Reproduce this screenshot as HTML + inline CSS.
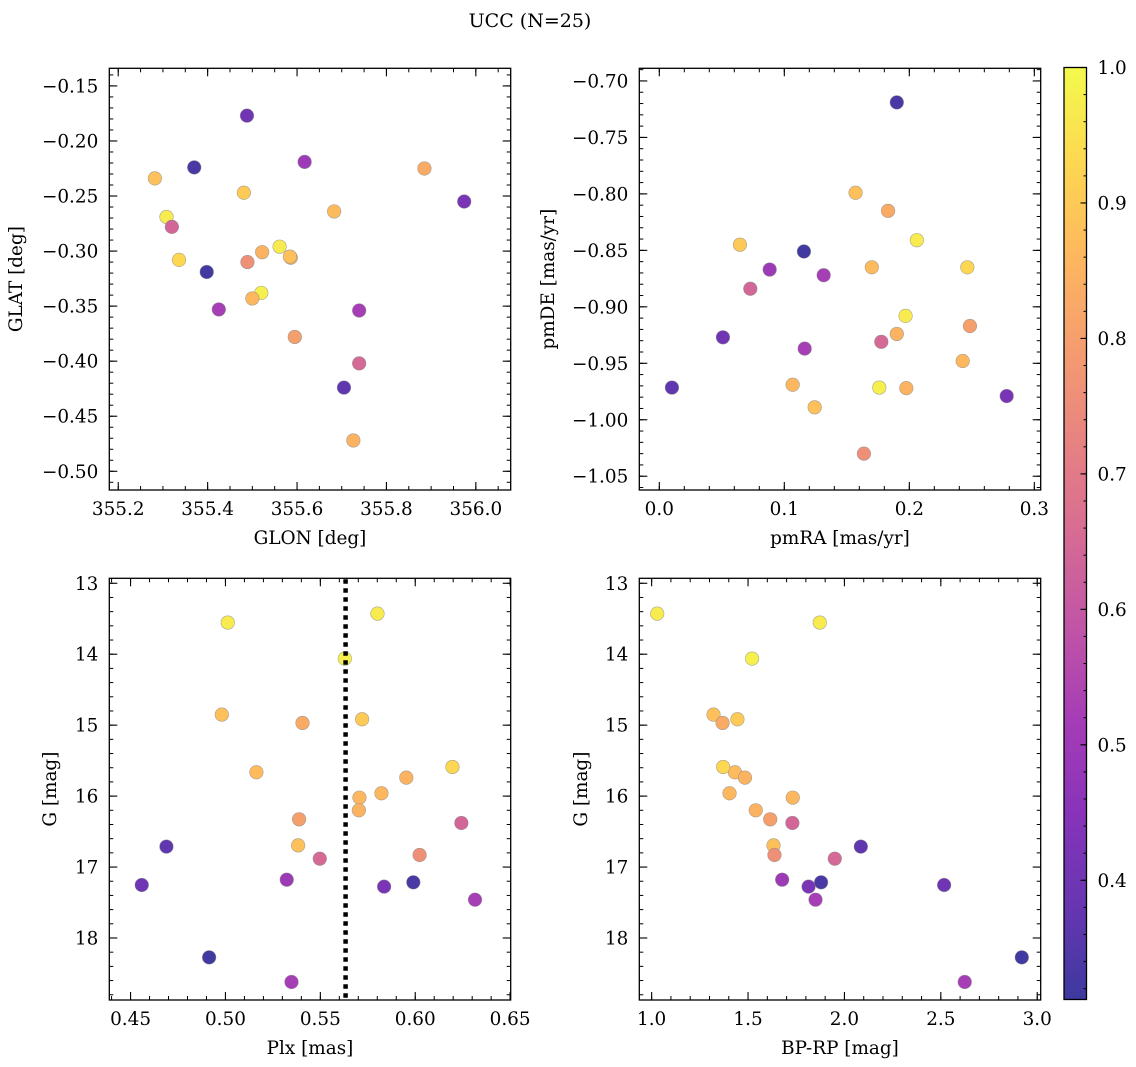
<!DOCTYPE html>
<html><head><meta charset="utf-8"><style>
html,body{margin:0;padding:0;background:#fff}
svg{display:block}
text{font-family:"DejaVu Serif","Liberation Serif",serif;fill:#000}
</style></head><body>
<svg id="fig" width="1136" height="1067" viewBox="0 0 1136 1067" xmlns="http://www.w3.org/2000/svg">
<defs>
<linearGradient id="plasma" x1="0" y1="1" x2="0" y2="0"></linearGradient>
</defs>
<text x="530" y="27" font-size="19" text-anchor="middle">UCC (N=25)</text>
</svg>
<script>
// per-star data (25 stars)
const plx   = [0.5012,0.5801,0.5629,0.4981,0.5406,0.5720,0.5163,0.6196,0.5953,0.5706,0.5822,0.5703,0.5388,0.6243,0.4689,0.5383,0.5497,0.6023,0.4559,0.5323,0.5836,0.5990,0.6315,0.4914,0.5348];
const gmag  = [13.554,13.428,14.062,14.851,14.969,14.917,15.664,15.589,15.740,16.022,15.960,16.200,16.327,16.379,16.712,16.694,16.882,16.830,17.253,17.178,17.276,17.215,17.460,18.273,18.620];
const bprp  = [1.872,1.029,1.521,1.321,1.368,1.445,1.432,1.371,1.484,1.732,1.404,1.540,1.615,1.730,2.085,1.632,1.950,1.637,2.517,1.677,1.814,1.879,1.850,2.920,2.624];
const glon  = [355.308,355.561,355.520,355.282,355.885,355.481,355.683,355.336,355.522,355.586,355.500,355.726,355.595,355.320,355.705,355.584,355.739,355.489,355.488,355.617,355.974,355.370,355.425,355.398,355.739];
const glat  = [-0.269,-0.296,-0.338,-0.234,-0.225,-0.247,-0.264,-0.308,-0.301,-0.306,-0.343,-0.472,-0.378,-0.278,-0.424,-0.305,-0.402,-0.310,-0.177,-0.219,-0.255,-0.224,-0.353,-0.319,-0.354];
const pmra  = [0.206,0.197,0.176,0.157,0.183,0.0645,0.170,0.2464,0.190,0.2427,0.1067,0.1976,0.2485,0.0728,0.0101,0.1243,0.1776,0.1637,0.0509,0.0883,0.2779,0.190,0.1315,0.1157,0.1163];
const pmde  = [-0.841,-0.908,-0.9715,-0.799,-0.815,-0.845,-0.865,-0.865,-0.924,-0.948,-0.969,-0.972,-0.917,-0.884,-0.9715,-0.989,-0.931,-1.030,-0.927,-0.867,-0.979,-0.719,-0.872,-0.851,-0.937];
const cval  = [0.97,0.97,0.98,0.88,0.83,0.90,0.87,0.93,0.85,0.86,0.86,0.85,0.80,0.64,0.37,0.88,0.65,0.76,0.40,0.50,0.42,0.33,0.52,0.32,0.52];
const plxLine = 0.5633;
const cbTicks = [0.4,0.5,0.6,0.7,0.8,0.9,1.0];

const NS="http://www.w3.org/2000/svg";
const svg=document.getElementById('fig');
const FS=18.4;
function mk(tag,attrs,parent){const e=document.createElementNS(NS,tag);for(const k in attrs)e.setAttribute(k,attrs[k]);(parent||svg).appendChild(e);return e;}

const VMIN=0.312, VMAX=1.0, ALPHA=0.8;
const stops=[[0,[13,8,135]],[0.1,[65,4,157]],[0.2,[106,0,168]],[0.3,[143,13,164]],[0.4,[177,42,144]],[0.5,[204,71,120]],[0.6,[225,100,98]],[0.7,[242,132,75]],[0.8,[252,166,54]],[0.9,[252,206,37]],[1.0,[240,249,33]]];
function plasma(v){
  let t=(v-VMIN)/(VMAX-VMIN); t=Math.max(0,Math.min(1,t));
  let c=stops[stops.length-1][1];
  for(let i=1;i<stops.length;i++){if(t<=stops[i][0]){const a=stops[i-1],b=stops[i];const f=(t-a[0])/(b[0]-a[0]);
    c=a[1].map((x,j)=>x+(b[1][j]-x)*f);break;}}
  c=c.map(x=>Math.round(x*ALPHA+255*(1-ALPHA)));
  return `rgb(${c[0]},${c[1]},${c[2]})`;
}
(function(){const g=document.getElementById('plasma');
  for(let i=0;i<=20;i++){const t=i/20;const v=VMIN+t*(VMAX-VMIN);mk('stop',{offset:t,'stop-color':plasma(v)},g);}})();

function fmt(v,d){const s=Math.abs(v).toFixed(d);return (v<-1e-9?'\u2212':'')+s;}
function steps(a,b,st){const out=[];const k0=Math.ceil(a/st-1e-6),k1=Math.floor(b/st+1e-6);for(let k=k0;k<=k1;k++)out.push(k*st);return out;}

function panel(o){
  const g=mk('g',{});
  
  
  const L=o.L,R=o.R,T=o.T,B=o.B;
  const sx=v=>L+(v-o.x0)/(o.x1-o.x0)*(R-L);
  const sy=o.yinv? (v=>T+(v-o.y0)/(o.y1-o.y0)*(B-T)) : (v=>B-(v-o.y0)/(o.y1-o.y0)*(B-T));
  const lo=Math.min(o.y0,o.y1),hi=Math.max(o.y0,o.y1);
  steps(o.x0,o.x1,o.xmin).forEach(v=>{const x=sx(v);
    mk('line',{x1:x,x2:x,y1:B,y2:B-4,stroke:'#000','stroke-width':1},g);mk('line',{x1:x,x2:x,y1:T,y2:T+4,stroke:'#000','stroke-width':1},g);});
  steps(lo,hi,o.ymin).forEach(v=>{const y=sy(v);
    mk('line',{x1:L,x2:L+4,y1:y,y2:y,stroke:'#000','stroke-width':1},g);mk('line',{x1:R,x2:R-4,y1:y,y2:y,stroke:'#000','stroke-width':1},g);});
  steps(o.x0,o.x1,o.xmaj).forEach(v=>{const x=sx(v);
    mk('line',{x1:x,x2:x,y1:B,y2:B-8,stroke:'#000','stroke-width':1.1},g);mk('line',{x1:x,x2:x,y1:T,y2:T+8,stroke:'#000','stroke-width':1.1},g);
    const t=mk('text',{x:x,y:B+25,'font-size':FS,'text-anchor':'middle'},g);t.textContent=fmt(v,o.xd);
    
    });
  steps(lo,hi,o.ymaj).forEach(v=>{const y=sy(v);
    mk('line',{x1:L,x2:L+8,y1:y,y2:y,stroke:'#000','stroke-width':1.1},g);mk('line',{x1:R,x2:R-8,y1:y,y2:y,stroke:'#000','stroke-width':1.1},g);
    const t=mk('text',{x:L-11,y:y+6.5,'font-size':FS,'text-anchor':'end'},g);t.textContent=fmt(v,o.yd);
    
    });
  const xl=mk('text',{x:(L+R)/2,y:B+54,'font-size':FS,'text-anchor':'middle'},g);xl.textContent=o.xlabel;
  
  
  const yl=mk('text',{x:o.ylx,y:(T+B)/2,'font-size':FS,'text-anchor':'middle',transform:`rotate(-90 ${o.ylx} ${(T+B)/2})`},g);yl.textContent=o.ylabel;
  
  
  for(let i=0;i<o.xs.length;i++){
    const c=mk('circle',{cx:sx(o.xs[i]),cy:sy(o.ys[i]),r:6.8,fill:plasma(cval[i]),stroke:'#888','stroke-opacity':0.7,'stroke-width':0.6},g);
    
    
  }
  if(o.vline!==undefined){const x=sx(o.vline);const l=mk('line',{x1:x,x2:x,y1:T+1,y2:B,stroke:'#000','stroke-width':4.5,'stroke-dasharray':'4.5 4.5'},g);
    
    }
  mk('rect',{x:L,y:T,width:R-L,height:B-T,fill:'none',stroke:'#000','stroke-width':1.3},g);
}

panel({name:'glon-glat-panel',L:109.3,R:510.7,T:68.3,B:490,x0:355.180,x1:356.078,y0:-0.517,y1:-0.134,xmaj:0.2,xmin:0.05,ymaj:0.05,ymin:0.01,xd:1,yd:2,xs:glon,ys:glat,xlabel:'GLON [deg]',ylabel:'GLAT [deg]',ylx:22});
panel({name:'pm-panel',L:639.3,R:1040.7,T:68.3,B:490,x0:-0.016,x1:0.3051,y0:-1.0622,y1:-0.6888,xmaj:0.1,xmin:0.02,ymaj:0.05,ymin:0.01,xd:1,yd:2,xs:pmra,ys:pmde,xlabel:'pmRA [mas/yr]',ylabel:'pmDE [mas/yr]',ylx:554});
panel({name:'plx-g-panel',L:109.3,R:510.7,T:578.3,B:1000,x0:0.4388,x1:0.6503,y0:12.93,y1:18.874,yinv:true,xmaj:0.05,xmin:0.01,ymaj:1,ymin:0.2,xd:2,yd:0,xs:plx,ys:gmag,xlabel:'Plx [mas]',ylabel:'G [mag]',ylx:56,vline:plxLine});
panel({name:'cmd-panel',L:639.3,R:1040.7,T:578.3,B:1000,x0:0.936,x1:3.018,y0:12.93,y1:18.874,yinv:true,xmaj:0.5,xmin:0.1,ymaj:1,ymin:0.2,xd:1,yd:0,xs:bprp,ys:gmag,xlabel:'BP-RP [mag]',ylabel:'G [mag]',ylx:587});

(function(){
  const L=1064,R=1086.5,T=67.5,B=999.5;
  const g=mk('g',{});
  
  
  mk('rect',{x:L,y:T,width:R-L,height:B-T,fill:'url(#plasma)'},g);
  const sy=v=>B-(v-VMIN)/(VMAX-VMIN)*(B-T);
  steps(VMIN,VMAX,0.02).forEach(v=>{const y=sy(v);mk('line',{x1:R,x2:R-3,y1:y,y2:y,stroke:'#000','stroke-width':1},g);});
  cbTicks.forEach(v=>{const y=sy(v);mk('line',{x1:R,x2:R-6,y1:y,y2:y,stroke:'#000','stroke-width':1.1},g);
    const t=mk('text',{x:R+11,y:y+6.5,'font-size':FS},g);t.textContent=v.toFixed(1);
    
    });
  mk('rect',{x:L,y:T,width:R-L,height:B-T,fill:'none',stroke:'#000','stroke-width':1.3},g);
})();
</script>
</body></html>
